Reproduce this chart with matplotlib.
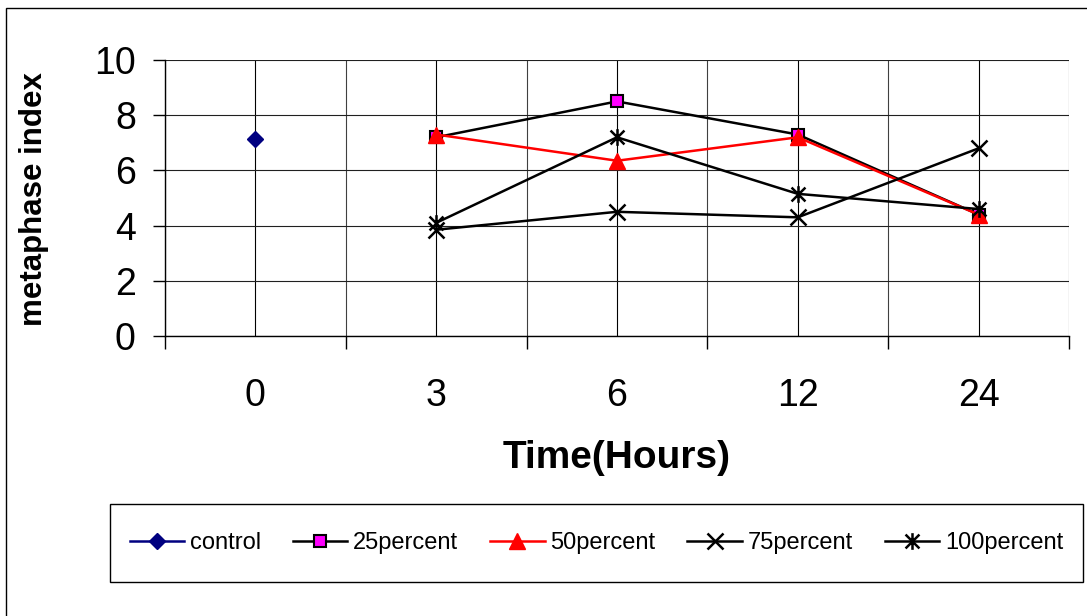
import numpy as np
import matplotlib
matplotlib.use("Agg")
import matplotlib.pyplot as plt
from matplotlib.path import Path
from matplotlib.patches import Rectangle

plt.rcParams['font.family'] = ['Liberation Sans', 'DejaVu Sans']

categories = ['0', '3', '6', '12', '24']
control = [7.15, np.nan, np.nan, np.nan, np.nan]
p25 = [np.nan, 7.2, 8.5, 7.3, 4.4]
p50 = [np.nan, 7.3, 6.35, 7.2, 4.4]
p75 = [np.nan, 3.85, 4.5, 4.3, 6.8]
p100 = [np.nan, 4.1, 7.2, 5.15, 4.6]
yticks = [0, 2, 4, 6, 8, 10]

W, H = 1087, 616
fig = plt.figure(figsize=(W / 100, H / 100), dpi=100)
ax = fig.add_axes([165 / W, 1 - 336 / H, (1069 - 165) / W, (336 - 60) / H])

x = np.arange(len(categories))

star = Path([(-0.5, -0.5), (0.5, 0.5), (-0.5, 0.5), (0.5, -0.5), (0, -0.6), (0, 0.6)],
            [Path.MOVETO, Path.LINETO, Path.MOVETO, Path.LINETO, Path.MOVETO, Path.LINETO])

lw = 1.8
ax.plot(x, control, color='#000080', lw=lw, marker='D', ms=8.5, mfc='#000080', mec='#000080', label='control')
ax.plot(x, p25, color='black', lw=lw, marker='s', ms=9, mfc='#ff00ff', mec='black', mew=1.5, label='25percent')
ax.plot(x, p50, color='red', lw=lw, marker='^', ms=11.5, mfc='red', mec='red', label='50percent')
ax.plot(x, p75, color='black', lw=lw, marker='x', ms=11, mew=1.8, label='75percent')
ax.plot(x, p100, color='black', lw=lw, marker=star, ms=12, mew=1.8, label='100percent')

ax.set_xlim(-0.5, len(categories) - 0.5)
ax.set_ylim(0, 10)
ax.set_yticks(yticks)
ax.set_xticks(x)
ax.set_xticklabels(categories)
ax.set_xticks(np.arange(-0.5, len(categories), 1.0), minor=True)
ax.tick_params(axis='x', which='major', length=0, pad=30, labelsize=27)
ax.tick_params(axis='x', which='minor', length=9, width=1, direction='out', color='black')
ax.tick_params(axis='y', which='major', length=9, width=1, direction='out', pad=12, labelsize=27)

ax.grid(True, which='major', axis='x', color='black', lw=0.8)
ax.grid(True, which='minor', axis='x', color='#404040', lw=0.8)
ax.grid(True, which='major', axis='y', color='#202020', lw=0.8)
ax.set_axisbelow(True)
for s in ['top', 'right']:
    ax.spines[s].set_visible(False)
for s in ['left', 'bottom']:
    ax.spines[s].set_color('black')
    ax.spines[s].set_linewidth(1)

fig.text(617 / W, 1 - 458 / H, 'Time(Hours)', fontsize=28, fontweight='bold', ha='center', va='center')
fig.text(34 / W, 1 - 199 / H, 'metaphase index', fontsize=22.5, fontweight='bold', ha='center', va='center', rotation=90)

leg = fig.legend(loc='center', bbox_to_anchor=(596.5 / W, 1 - 543 / H), ncol=5, fontsize=17,
                 handlelength=2.3, handletextpad=0.25, columnspacing=1.35, borderpad=0.9,
                 frameon=False)

fig.add_artist(Rectangle((110 / W, 1 - 582 / H), (1083 - 110) / W, (582 - 504) / H,
                         transform=fig.transFigure, fill=False, ec='black', lw=1))

fig.add_artist(Rectangle((6 / W, -0.1), 1.2, 1.1 - 8 / H, transform=fig.transFigure,
                         fill=False, ec='black', lw=1))

fig.savefig('out.png', dpi=100)
